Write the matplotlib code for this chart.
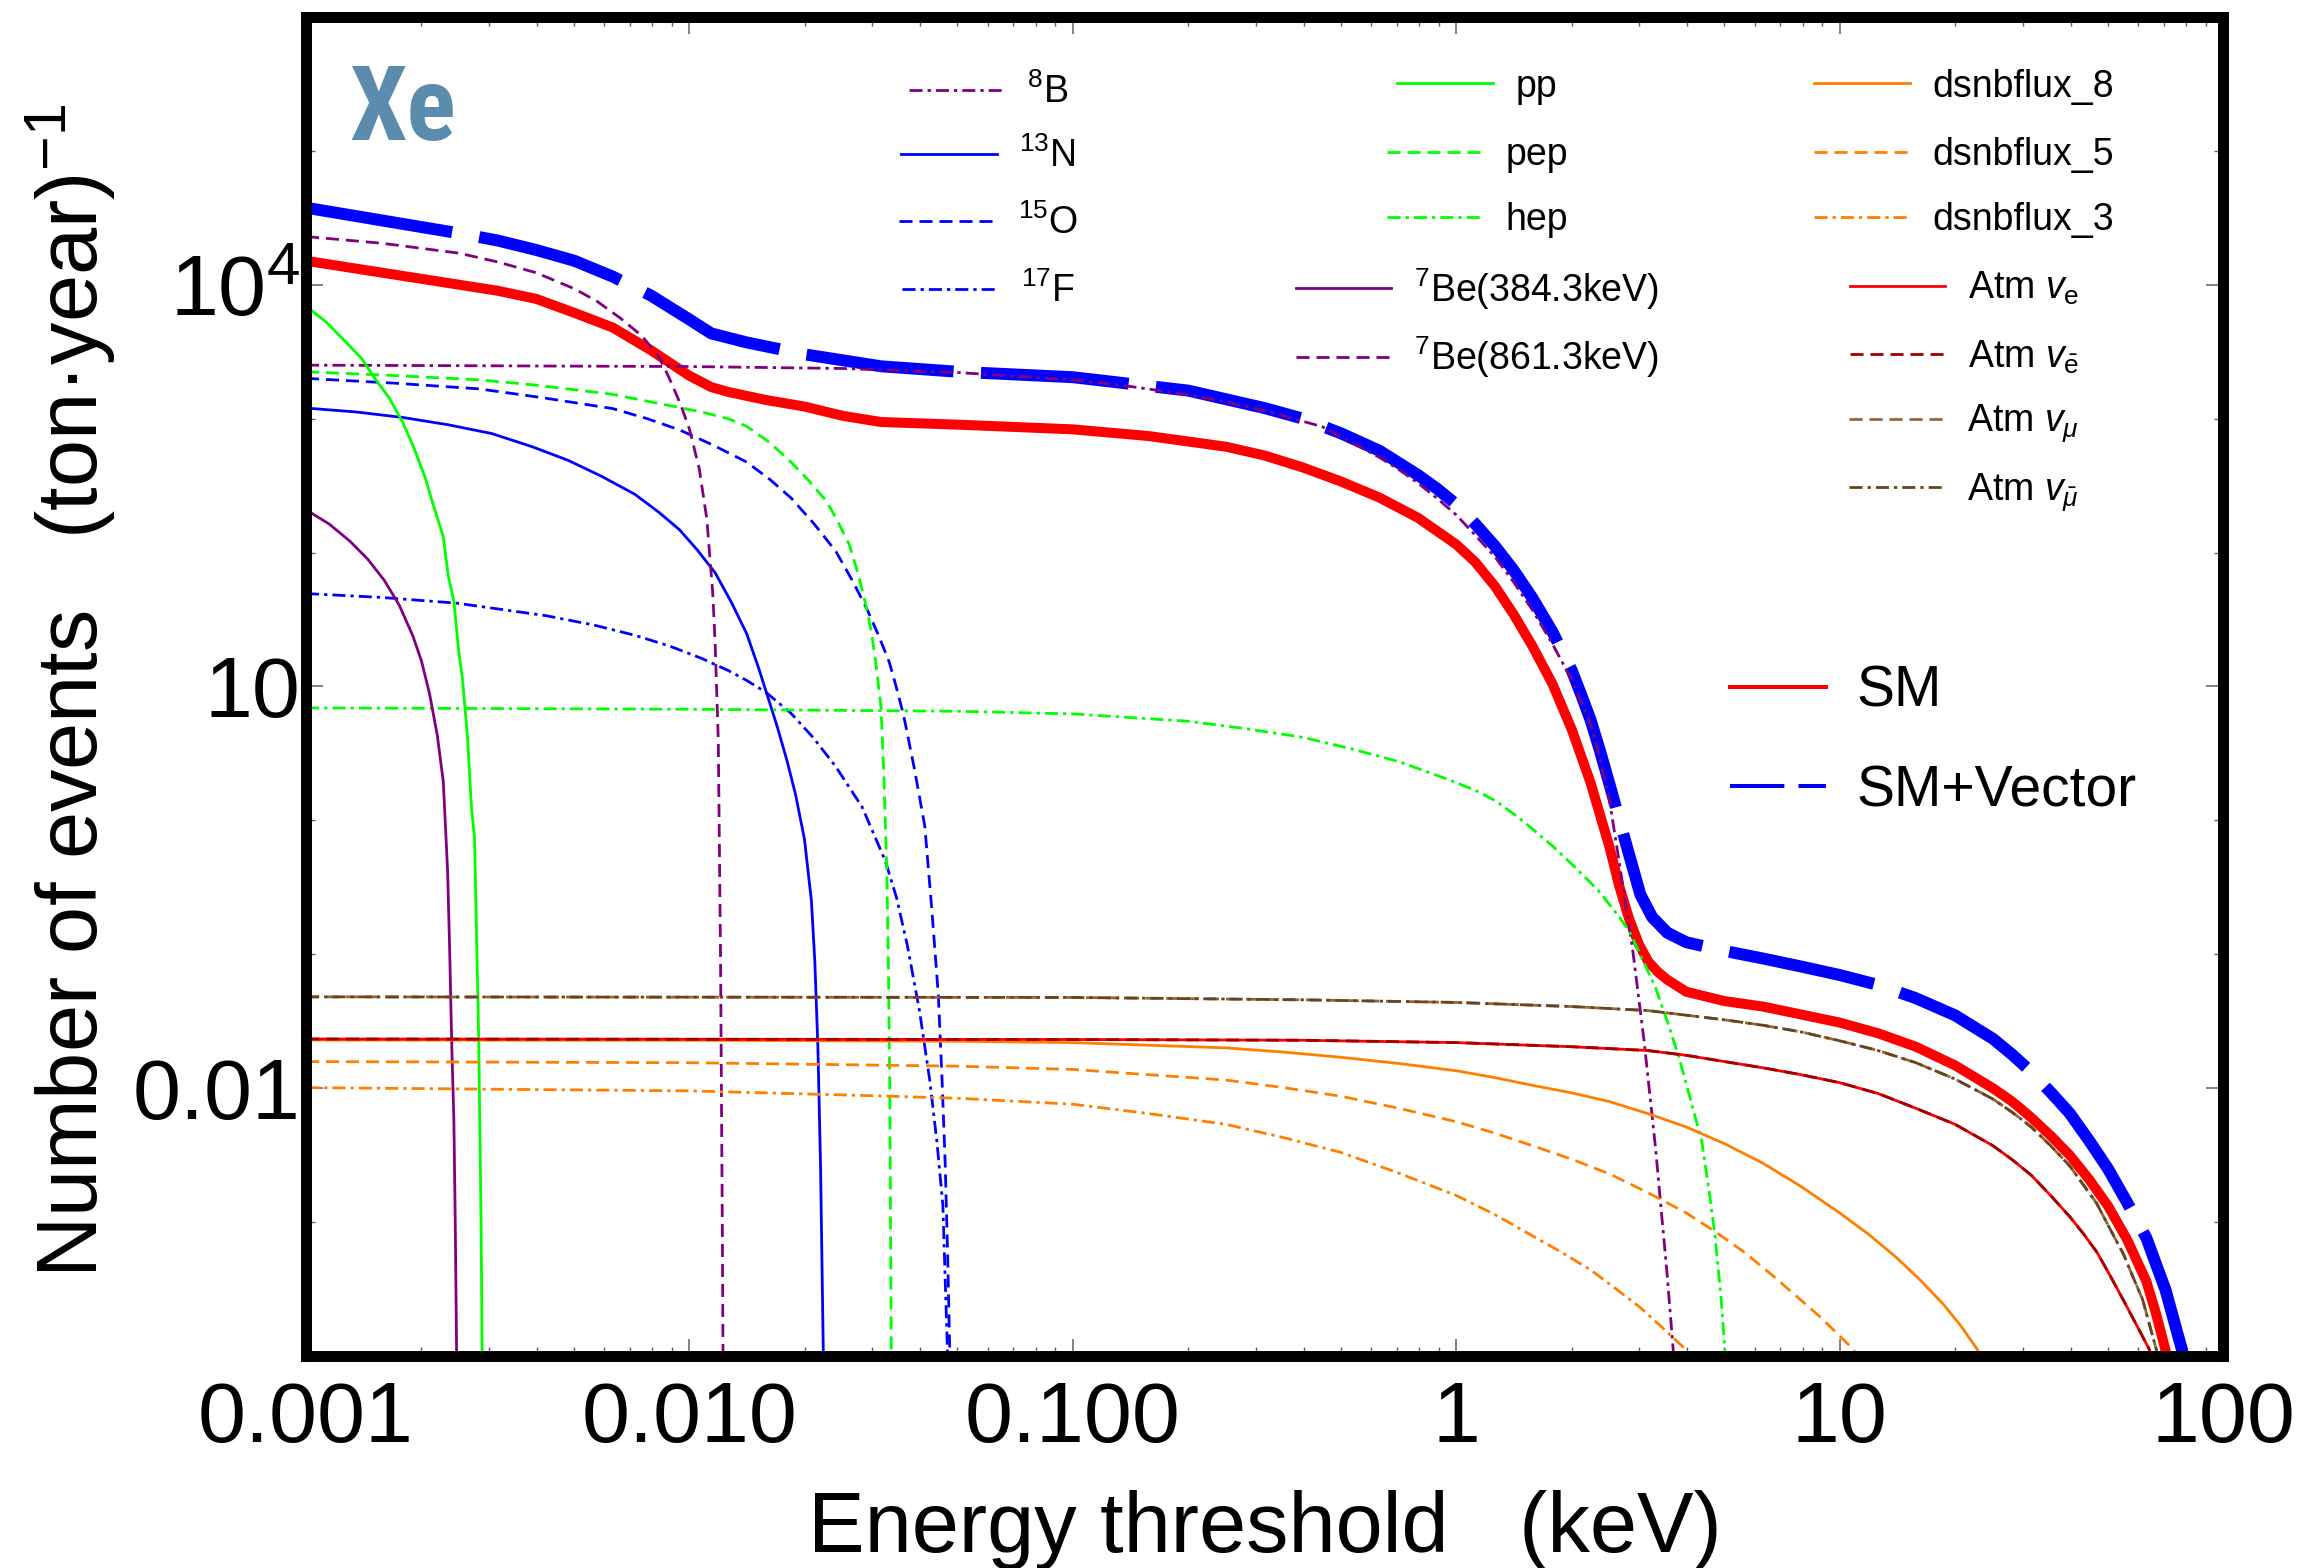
import numpy as np
import matplotlib
matplotlib.use("Agg")
import matplotlib.pyplot as plt
from matplotlib.lines import Line2D
from matplotlib.ticker import FixedLocator, LogLocator, NullFormatter

# Energy threshold (keV) vs number of events per ton-year

sm_vec_x = [0.001, 0.00158, 0.00251, 0.00316, 0.00398, 0.00501, 0.00631, 0.00794, 0.01, 0.0114,
            0.0141, 0.02, 0.0316, 0.0501, 0.1, 0.2, 0.316, 0.398, 0.501, 0.631, 0.794, 0.891, 1.0,
            1.12, 1.26, 1.41, 1.58, 1.78, 2.0, 2.11, 2.24, 2.37, 2.51, 2.66, 2.82, 3.02, 3.24,
            3.55, 3.98, 5.01, 6.31, 7.94, 10, 12.6, 15.8, 20, 25.1, 28.2, 31.6, 35.5, 39.8, 44.7,
            50.1, 56.2, 63.1, 70.8, 78.2, 81.3]
sm_vec_y = [3.76e4, 3.02e4, 2.42e4, 2.14e4, 1.82e4, 1.51e4, 1.15e4, 8300, 5500, 4330, 3710, 3020,
            2460, 2240, 2040, 1620, 1200, 1000, 776, 575, 380, 300, 229, 164, 112, 74.1, 45.7,
            25.7, 13.2, 8.91, 5.62, 3.31, 1.86, 1.02, 0.562, 0.28, 0.19, 0.145, 0.123, 0.106,
            0.093, 0.081, 0.070, 0.059, 0.047, 0.035, 0.0234, 0.0178, 0.0132, 0.00933, 0.0065,
            0.00407, 0.0025, 0.0014, 7.6e-4, 3.1e-4, 1.1e-4, 5e-5]

sm_x = [0.001, 0.00158, 0.00251, 0.00316, 0.00398, 0.00501, 0.00631, 0.00794, 0.01, 0.0114, 0.0126,
        0.0158, 0.02, 0.0251, 0.0316, 0.0501, 0.1, 0.158, 0.251, 0.316, 0.398, 0.501, 0.631, 0.794,
        1.0, 1.12, 1.26, 1.41, 1.58, 1.78, 2.0, 2.24, 2.51, 2.66, 2.82, 2.99, 3.16, 3.35, 3.55,
        3.98, 5.01, 6.31, 7.94, 10, 12.6, 15.8, 20, 25.1, 28.2, 31.6, 35.5, 39.8, 44.7, 50.1, 56.2,
        63.1, 66.8, 70.8, 74.1]
sm_y = [15100, 12300, 10000, 9020, 7850, 6170, 4790, 3240, 2090, 1720, 1585, 1380, 1230, 1050, 944,
        902, 832, 741, 617, 531, 432, 339, 257, 182, 115, 85.1, 56.2, 34.7, 20.0, 10.5, 4.79, 1.91,
        0.631, 0.324, 0.186, 0.120, 0.0891, 0.0741, 0.0646, 0.0525, 0.0447, 0.0407, 0.0355,
        0.0309, 0.0257, 0.0204, 0.0148, 0.0100, 0.00794, 0.00603, 0.00442, 0.00316, 0.00209,
        0.00132, 7.4e-4, 3.6e-4, 2.09e-4, 1.1e-4, 5e-5]

b8_x = [0.001, 0.01, 0.0251, 0.0501, 0.1, 0.141, 0.2, 0.251, 0.316, 0.447, 0.631, 0.708, 0.794,
        0.891, 1.0, 1.12, 1.26, 1.41, 1.58, 1.78, 2.0, 2.24, 2.37, 2.51, 2.69, 2.88, 3.09, 3.31,
        3.55, 3.68, 3.76]
b8_y = [2510, 2450, 2370, 2210, 1950, 1740, 1510, 1333, 1150, 871, 513, 417, 331, 254, 191, 135,
        93.3, 60.3, 37.2, 20.9, 11.2, 5.25, 2.88, 1.41, 0.398, 0.112, 0.0224, 0.00355, 3.98e-4,
        1.11e-4, 4e-5]

n13_x = [0.001, 0.00135, 0.00179, 0.00234, 0.00305, 0.00389, 0.00482, 0.00589, 0.00721, 0.00832,
         0.00942, 0.01047, 0.01167, 0.01288, 0.0141, 0.01514, 0.0161, 0.01698, 0.01799, 0.01892,
         0.01995, 0.0208, 0.02123, 0.02163, 0.02198, 0.02234, 0.0226]
n13_y = [1200, 1122, 1020, 902, 774, 617, 489, 372, 272, 200, 148, 105, 70.6, 42.2, 24.8, 13.8,
         7.94, 4.90, 2.75, 1.55, 0.724, 0.251, 0.0891, 0.020, 0.00251, 1.07e-4, 3e-5]

o15_x = [0.001, 0.0017, 0.00282, 0.00417, 0.0063, 0.00776, 0.00942, 0.01148, 0.0141, 0.01622,
         0.0184, 0.02113, 0.0241, 0.02649, 0.0290, 0.03105, 0.0332, 0.03467, 0.03622, 0.03864,
         0.0411, 0.04285, 0.04457, 0.0455, 0.04645, 0.0471, 0.04775, 0.0481]
o15_y = [2000, 1841, 1670, 1429, 1190, 1000, 824, 638, 474, 351, 256, 164, 102, 63.1, 38.2, 24.5,
         15.2, 9.77, 6.03, 2.40, 0.904, 0.219, 0.05, 0.0132, 0.00276, 6.3e-4, 1.07e-4, 3e-5]

f17_x = [0.001, 0.00158, 0.00247, 0.00422, 0.00562, 0.00721, 0.00891, 0.01076, 0.01259, 0.0141,
         0.01585, 0.0184, 0.0210, 0.0241, 0.0282, 0.0324, 0.0347, 0.0370, 0.0398, 0.0423, 0.0442,
         0.0458, 0.0471, 0.0476]
f17_y = [49.4, 46.2, 41.9, 33.8, 28.8, 24.1, 19.95, 16.2, 13.2, 11.1, 9.02, 6.31, 4.17, 2.51, 1.26,
         0.501, 0.263, 0.117, 0.038, 0.0117, 0.00398, 0.00135, 1.07e-4, 3e-5]

pp_x = [0.001, 0.00113, 0.00126, 0.0014, 0.00152, 0.00165, 0.00179, 0.0019, 0.00204, 0.00215,
        0.00228, 0.00235, 0.00243, 0.0025, 0.00256, 0.00264, 0.0027, 0.00275, 0.00282, 0.00286,
        0.00288, 0.0029]
pp_y = [6920, 5250, 3820, 2790, 1950, 1420, 931, 631, 371, 224, 131, 66.8, 43.3, 18.5, 11.2, 3.98,
        1.25, 0.75, 0.0243, 0.00105, 1.07e-4, 3e-5]

pep_x = [0.001, 0.0017, 0.00282, 0.00398, 0.0063, 0.0108, 0.0126, 0.0141, 0.01622, 0.0184, 0.02042,
         0.0228, 0.02438, 0.0261, 0.02754, 0.0290, 0.02985, 0.0306, 0.0316, 0.03214, 0.0327,
         0.03304, 0.0333, 0.0336, 0.0338]
pep_y = [2240, 2099, 1950, 1780, 1520, 1120, 1000, 877, 661, 474, 347, 241, 170, 115, 69.2, 38.2,
         25.1, 15.2, 7.0, 2.14, 0.44, 0.0794, 0.01, 1.07e-4, 3e-5]

hep_x = [0.001, 0.01, 0.0501, 0.1, 0.2, 0.282, 0.398, 0.531, 0.708, 0.944, 1.12, 1.26, 1.41, 1.50,
         1.78, 2.04, 2.34, 2.57, 2.82, 3.05, 3.31, 3.55, 3.80, 4.07, 4.37, 4.57, 4.73, 4.90, 5.02,
         5.13]
hep_y = [6.92, 6.76, 6.53, 6.24, 5.50, 4.84, 4.17, 3.43, 2.75, 2.04, 1.68, 1.41, 1.12, 0.977,
         0.646, 0.447, 0.302, 0.216, 0.151, 0.0933, 0.0562, 0.0316, 0.0174, 0.00851, 0.00398,
         0.00166, 7.9e-4, 2.8e-4, 1.11e-4, 4e-5]

be384_x = [0.001, 0.00115, 0.0013, 0.00145, 0.0016, 0.00175, 0.0019, 0.002, 0.0021, 0.0022,
           0.00228, 0.00234, 0.00237, 0.0024, 0.00243, 0.00245, 0.00247, 0.00249]
be384_y = [209, 163, 122, 89, 62, 40.5, 23.8, 15.5, 8.8, 4.3, 1.95, 0.42, 0.103, 0.02, 0.0057,
           1e-3, 1.07e-4, 3e-5]

be861_x = [0.001, 0.00158, 0.00251, 0.00316, 0.00398, 0.00501, 0.00575, 0.00661, 0.0075, 0.0083,
           0.0089, 0.0095, 0.0100, 0.0106, 0.0111, 0.0115, 0.01167, 0.01189, 0.01205, 0.01218,
           0.01225]
be861_y = [22900, 20400, 17200, 14800, 12300, 9330, 7500, 5620, 4170, 2950, 1950, 1260, 832, 427,
           178, 50, 20.7, 4.0, 0.1, 1e-3, 5e-5]

dsnb8_x = [0.001, 0.01, 0.0501, 0.1, 0.251, 0.355, 0.501, 0.708, 1.0, 1.26, 1.58, 2.0, 2.51, 3.16,
           3.98, 5.01, 6.31, 7.94, 10, 11.9, 14.1, 16.2, 18.6, 20.7, 22.9, 24.0]
dsnb8_y = [0.0229, 0.0228, 0.0224, 0.0219, 0.0200, 0.0186, 0.0170, 0.0153, 0.0135, 0.0120, 0.0105,
           0.00923, 0.00794, 0.00646, 0.00513, 0.00385, 0.00275, 0.00184, 0.00117, 8.1e-4, 5.4e-4,
           3.7e-4, 2.45e-4, 1.68e-4, 1.11e-4, 4e-5]

dsnb5_x = [0.001, 0.01, 0.0501, 0.1, 0.251, 0.355, 0.501, 0.708, 1.0, 1.26, 1.58, 2.0, 2.51, 3.16,
           3.98, 4.73, 5.62, 6.68, 7.94, 8.91, 10, 10.9, 11.5]
dsnb5_y = [0.0158, 0.0155, 0.0146, 0.0138, 0.0115, 0.0101, 0.0087, 0.00708, 0.00562, 0.00462,
           0.00372, 0.00295, 0.00229, 0.00166, 0.00117, 8.5e-4, 6.0e-4, 4.0e-4, 2.6e-4, 1.95e-4,
           1.41e-4, 1.11e-4, 4e-5]

dsnb3_x = [0.001, 0.01, 0.0316, 0.0501, 0.1, 0.158, 0.251, 0.355, 0.501, 0.708, 1.0, 1.26, 1.58,
           1.88, 2.24, 2.6, 3.02, 3.47, 3.98, 4.27]
dsnb3_y = [0.0101, 0.00955, 0.00875, 0.00841, 0.00759, 0.00646, 0.00537, 0.00427, 0.00331, 0.00232,
           0.00158, 0.00114, 7.9e-4, 5.96e-4, 4.4e-4, 3.2e-4, 2.3e-4, 1.6e-4, 1.11e-4, 4e-5]

atm_e_x = [0.001, 0.1, 0.398, 1.0, 2.0, 3.16, 3.98, 5.01, 6.31, 7.94, 10, 12.6, 15.8, 20, 25.1, 28.2,
           31.6, 35.5, 39.8, 43.2, 46.8, 50.7, 55.0, 60.3, 64.3, 66.1]
atm_e_y = [0.0233, 0.0231, 0.0228, 0.0219, 0.0204, 0.0191, 0.0176, 0.0158, 0.0142, 0.0126, 0.0110,
           0.00912, 0.00708, 0.00537, 0.00372, 0.00292, 0.00224, 0.00158, 0.00110, 8.2e-4, 6.0e-4,
           4.0e-4, 2.6e-4, 1.58e-4, 1.11e-4, 4e-5]
atm_ebar_y = [0.0233, 0.0231, 0.0228, 0.0219, 0.0204, 0.0191, 0.0176, 0.0158, 0.0142, 0.0126,
              0.0110, 0.00912, 0.00708, 0.00537, 0.00372, 0.00292, 0.00224, 0.00158, 0.00110,
              8.2e-4, 6.0e-4, 4.0e-4, 2.6e-4, 1.58e-4, 1.11e-4, 4e-5]

atm_mu_x = [0.001, 0.1, 0.398, 1.0, 2.0, 3.16, 5.01, 6.31, 7.94, 10, 12.6, 15.8, 20, 25.1, 28.2,
            31.6, 35.5, 39.8, 43.2, 46.8, 50.7, 55.0, 58.2, 61.7, 67.0, 69.2]
atm_mu_y = [0.0481, 0.0476, 0.0457, 0.0437, 0.0407, 0.0380, 0.0324, 0.0295, 0.0263, 0.0226, 0.0191,
            0.0155, 0.0117, 0.0083, 0.0066, 0.00513, 0.00372, 0.00263, 0.0019, 0.00138, 8.9e-4,
            5.75e-4, 3.9e-4, 2.63e-4, 1.11e-4, 4e-5]
atm_mubar_y = [0.0481, 0.0476, 0.0457, 0.0437, 0.0407, 0.0380, 0.0324, 0.0295, 0.0263, 0.0226,
               0.0191, 0.0155, 0.0117, 0.0083, 0.0066, 0.00513, 0.00372, 0.00263, 0.0019, 0.00138,
               8.9e-4, 5.75e-4, 3.9e-4, 2.63e-4, 1.11e-4, 4e-5]

x_ticks = [1e-3, 1e-2, 1e-1, 1, 10, 100]
x_tick_labels = ["0.001", "0.010", "0.100", "1", "10", "100"]
y_ticks = [1e4, 10, 0.01]
y_tick_labels = [r"$\mathregular{10^{4}}$", "10", "0.01"]
y_minor_ticks = [1e5, 1e3, 100, 1, 0.1, 1e-3]

PURPLE = "#800080"
BLUE = "#0000ff"
GREEN = "#00ff00"
ORANGE = "#ff8000"
RED = "#ff0000"
DARKRED = "#a00000"
BROWN = "#996633"
DARKBROWN = "#664422"

DASH = (4.7, 2.5)
DASHDOT = (4.7, 1.8, 1.2, 1.8)


def main():
    plt.rcParams["font.family"] = ["Liberation Sans", "DejaVu Sans"]
    plt.rcParams["mathtext.fontset"] = "custom"
    plt.rcParams["mathtext.rm"] = "Liberation Sans"
    plt.rcParams["mathtext.it"] = "Liberation Sans:italic"
    plt.rcParams["mathtext.bf"] = "Liberation Sans:bold"

    fig = plt.figure(figsize=(23.15, 15.68), dpi=100)
    ax = fig.add_axes([0.1322, 0.1352, 0.8281, 0.8540])
    ax.set_xscale("log")
    ax.set_yscale("log")
    ax.set_xlim(1e-3, 100)
    ax.set_ylim(1e-4, 1e6)

    # thick total curves
    ax.plot(sm_x, sm_y, color=RED, lw=7.2, solid_capstyle="butt", solid_joinstyle="round", zorder=2)
    vec, = ax.plot(sm_vec_x, sm_vec_y, color=BLUE, lw=8.6, dash_joinstyle="round", zorder=2)
    vec.set_dashes((12.4, 2.3))

    # individual fluxes: (x, y, colour, dashes, label, legend position)
    series = [
        (b8_x, b8_y, PURPLE, DASHDOT, r"$^{8}$B", (0.356, 0.944)),
        (n13_x, n13_y, BLUE, None, r"$^{13}$N", (0.356, 0.896)),
        (o15_x, o15_y, BLUE, DASH, r"$^{15}$O", (0.356, 0.846)),
        (f17_x, f17_y, BLUE, DASHDOT, r"$^{17}$F", (0.356, 0.795)),
        (pp_x, pp_y, GREEN, None, "pp", (0.611, 0.948)),
        (pep_x, pep_y, GREEN, DASH, "pep", (0.611, 0.897)),
        (hep_x, hep_y, GREEN, DASHDOT, "hep", (0.611, 0.848)),
        (be384_x, be384_y, PURPLE, None, r"$^{7}$Be(384.3keV)", (0.611, 0.797)),
        (be861_x, be861_y, PURPLE, DASH, r"$^{7}$Be(861.3keV)", (0.611, 0.746)),
        (dsnb8_x, dsnb8_y, ORANGE, None, "dsnbflux_8", (0.865, 0.948)),
        (dsnb5_x, dsnb5_y, ORANGE, DASH, "dsnbflux_5", (0.865, 0.897)),
        (dsnb3_x, dsnb3_y, ORANGE, DASHDOT, "dsnbflux_3", (0.865, 0.848)),
        (atm_e_x, atm_e_y, RED, None, r"Atm $\mathit{v}_{\mathrm{e}}$", (0.865, 0.797)),
        (atm_e_x, atm_ebar_y, DARKRED, DASH, r"Atm $\mathit{v}_{\bar{\mathrm{e}}}$", (0.865, 0.746)),
        (atm_mu_x, atm_mu_y, BROWN, DASH, r"Atm $\mathit{v}_{\mu}$", (0.865, 0.696)),
        (atm_mu_x, atm_mubar_y, DARKBROWN, DASHDOT, r"Atm $\mathit{v}_{\bar{\mu}}$", (0.865, 0.645)),
    ]

    for x, y, color, dashes, label, (cx, cy) in series:
        line, = ax.plot(x, y, color=color, lw=2.0, zorder=3)
        handle = Line2D([], [], color=color, lw=2.0)
        if dashes is not None:
            line.set_dashes(dashes)
            handle.set_dashes(dashes)
        leg = ax.legend([handle], [label], loc="center", bbox_to_anchor=(cx, cy),
                        frameon=False, fontsize=27, handlelength=2.55, handletextpad=0.6,
                        borderpad=0, borderaxespad=0)
        ax.add_artist(leg)

    sm_handle = Line2D([], [], color=RED, lw=2.9)
    vec_handle = Line2D([], [], color=BLUE, lw=2.9)
    vec_handle.set_dashes((13.5, 3.5))
    ax.legend([sm_handle, vec_handle], ["SM", "SM+Vector"], loc="center left",
              bbox_to_anchor=(0.743, 0.459), frameon=False, fontsize=41,
              handlelength=1.68, handletextpad=0.53, labelspacing=0.8,
              borderpad=0, borderaxespad=0)

    ax.text(0.0225, 0.908, "Xe", transform=ax.transAxes, fontsize=74, fontweight="heavy",
            fontstretch="condensed", color="#5B8BAD",
            family=["Roboto Condensed", "Liberation Sans Narrow", "DejaVu Sans"], va="baseline")

    # ticks
    ax.set_xticks(x_ticks)
    ax.set_xticklabels(x_tick_labels)
    ax.xaxis.set_minor_locator(LogLocator(base=10, subs=np.arange(2, 10), numticks=30))
    ax.xaxis.set_minor_formatter(NullFormatter())
    ax.set_yticks(y_ticks)
    ax.set_yticklabels(y_tick_labels)
    ax.yaxis.set_minor_locator(FixedLocator(y_minor_ticks))
    ax.yaxis.set_minor_formatter(NullFormatter())

    ax.tick_params(which="both", direction="in", top=True, right=True, color="#606060")
    ax.tick_params(which="major", length=12, width=1.1, labelsize=62)
    ax.tick_params(which="minor", length=6.5, width=1.0)
    ax.tick_params(axis="x", pad=17)
    ax.tick_params(axis="y", pad=4)

    for spine in ax.spines.values():
        spine.set_linewidth(7.9)
        spine.set_color("black")
        spine.set_zorder(5)

    ax.set_xlabel("Energy threshold   (keV)", fontsize=61)
    ax.xaxis.set_label_coords(0.5, -0.100)
    ax.set_ylabel("Number of events   (ton·year)$^{-1}$", fontsize=61)
    ax.yaxis.set_label_coords(-0.098, 0.497)

    fig.savefig("out.png", dpi=100)


if __name__ == "__main__":
    main()
